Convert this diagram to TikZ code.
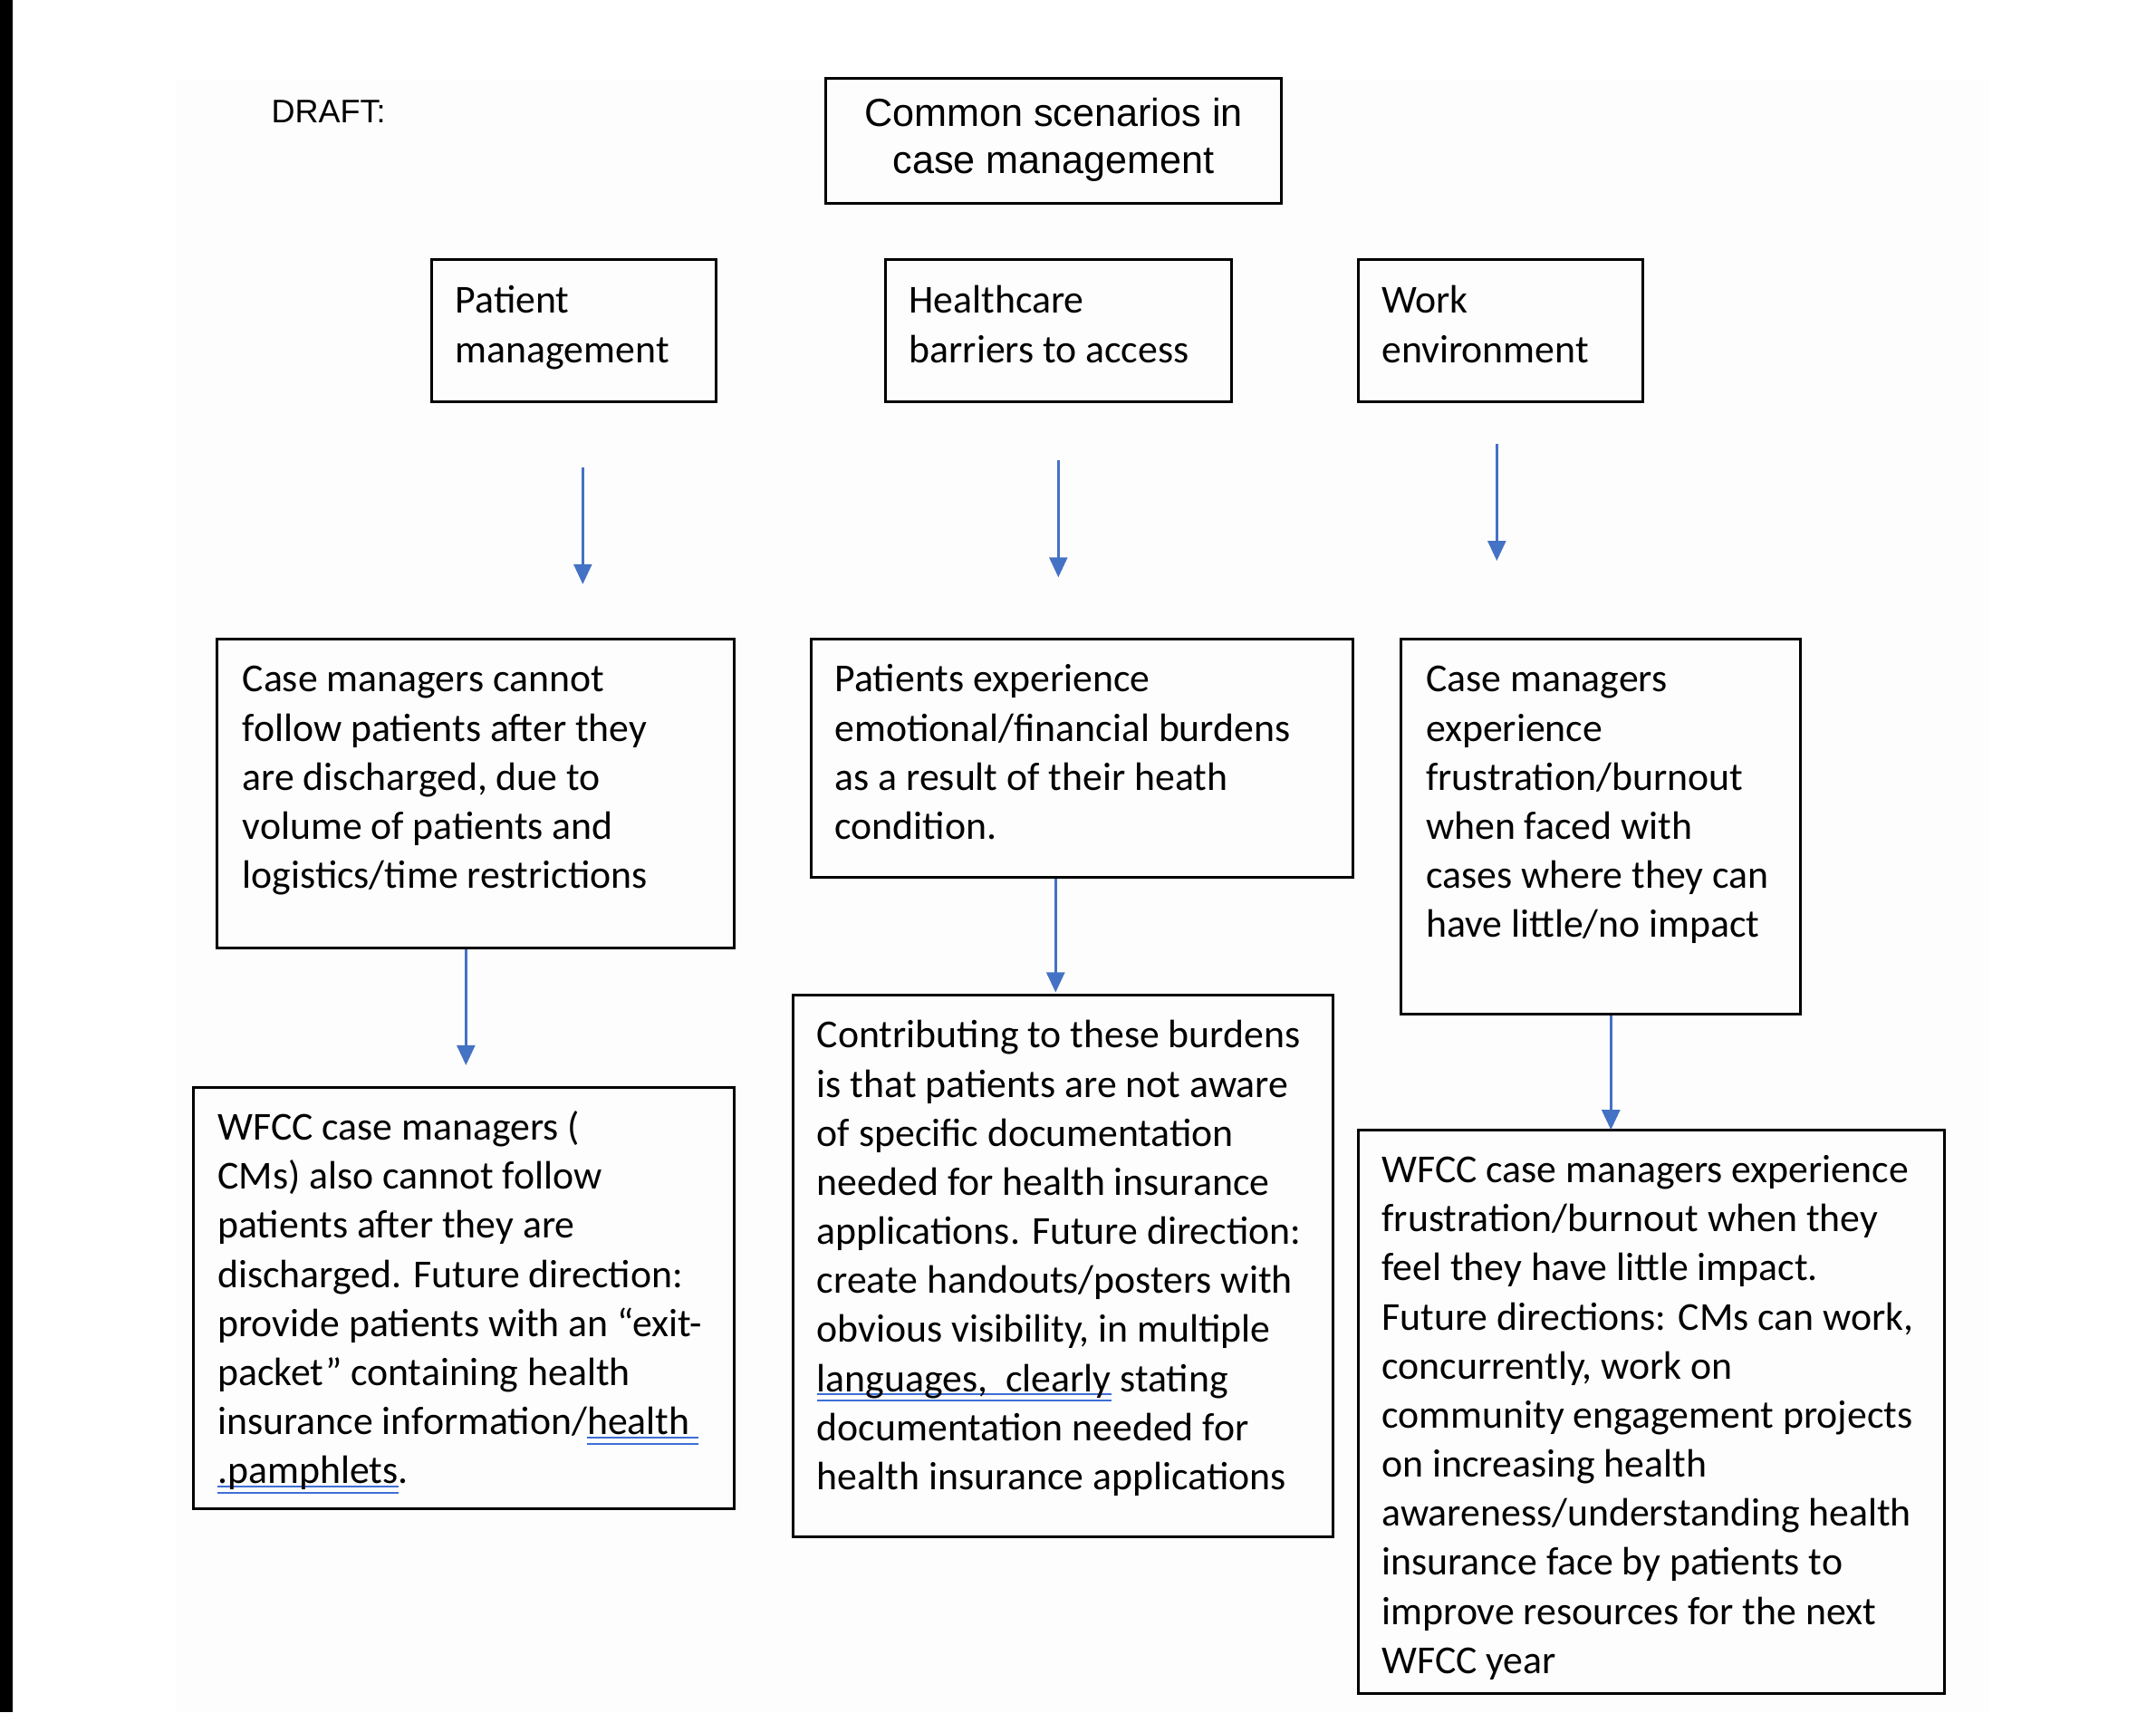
\documentclass[tikz,border=0pt]{standalone}
\usepackage{fontspec}
\setmainfont{Carlito}
\newfontfamily\arialfont{Liberation Sans}
\usetikzlibrary{arrows.meta,fit}
\definecolor{arrblue}{HTML}{4472C4}
\definecolor{splblue}{HTML}{3D6FD6}
\definecolor{paper}{HTML}{FDFDFD}
\newcommand\spchk[1]{\setbox0=\hbox{#1}\rlap{\color{splblue}\rule[-1.3pt]{\wd0}{0.6pt}\hskip-\wd0\rule[-3.4pt]{\wd0}{0.6pt}}\box0\relax}
\newcommand\bodyfnt{\fontsize{13.12}{16.25}\selectfont}
\newcommand\titlefnt{\arialfont\fontsize{12.95}{15.48}\selectfont}
\tikzset{
  boxnode/.style={draw=black, line width=0.9pt, inner sep=0pt},
  txtnode/.style={anchor=north west, inner sep=0pt, align=left, font=\bodyfnt},
  arr/.style={draw=arrblue, line width=0.75pt, -{Triangle[width=6pt,length=6.6pt]}}
}
\begin{document}
\begin{tikzpicture}[x=0.45515pt, y=-0.45515pt]
\useasboundingbox (0,0) rectangle (1568.6,1245.7);
\fill[paper] (128,58) rectangle (1447,1245.7);
\fill[black] (0,0) rectangle (9,1245.7);

% title
\node[boxnode, fit={(601,57) (932,148)}] (title) {};
\node[anchor=north, inner sep=0pt, align=center, font=\titlefnt] (titlet) at (766.5,68) {\strut Common scenarios in\\case management};
\node[anchor=base west, inner sep=0pt, font=\arialfont\fontsize{10.8}{12}\selectfont] (draft) at (197,89) {DRAFT:};

% row 1
\node[boxnode, fit={(314,189) (521,292)}] (pm) {};
\node[txtnode] (pmt) at (331,202.5) {\strut Patient\\management};
\node[boxnode, fit={(644,189) (896,292)}] (hb) {};
\node[txtnode] (hbt) at (661,202.5) {\strut Healthcare\\barriers to access};
\node[boxnode, fit={(988,189) (1195,292)}] (we) {};
\node[txtnode] (wet) at (1005,202.5) {\strut Work\\environment};

% floating arrows
\coordinate (pa1) at (424,340); \coordinate (pa2) at (424,425);
\coordinate (ha1) at (770,335); \coordinate (ha2) at (770,420);
\coordinate (wa1) at (1089,323); \coordinate (wa2) at (1089,408);
\draw[arr] (pa1) -- (pa2);
\draw[arr] (ha1) -- (ha2);
\draw[arr] (wa1) -- (wa2);

% row 2
\node[boxnode, fit={(158,465) (534,690)}] (a2) {};
\node[txtnode] (a2t) at (176,478) {\strut Case managers cannot\\follow patients after they\\are discharged, due to\\volume of patients and\\logistics/time restrictions};
\node[boxnode, fit={(590,465) (984,638)}] (b2) {};
\node[txtnode] (b2t) at (607,478) {\strut Patients experience\\emotional/financial burdens\\as a result of their heath\\condition.};
\node[boxnode, fit={(1019,465) (1310,738)}] (c2) {};
\node[txtnode] (c2t) at (1037,478) {\strut Case managers\\experience\\frustration/burnout\\when faced with\\cases where they can\\have little/no impact};

% row 3
\node[boxnode, fit={(141,791) (534,1098)}] (a3) {};
\node[txtnode] (a3t) at (158,804) {\strut WFCC case managers (\\CMs) also cannot follow\\patients after they are\\discharged. Future direction:\\provide patients with an “exit-\\packet” containing health\\insurance information/\spchk{health }\\\spchk{.pamphlets}.};
\node[boxnode, fit={(577,724) (970,1118)}] (b3) {};
\node[txtnode] (b3t) at (594,737) {\strut Contributing to these burdens\\is that patients are not aware\\of specific documentation\\needed for health insurance\\applications. Future direction:\\create handouts/posters with\\obvious visibility, in multiple\\\spchk{languages,~~clearly} stating\\documentation needed for\\health insurance applications};
\node[boxnode, fit={(988,822) (1415,1232)}] (c3) {};
\node[txtnode] (c3t) at (1005,835) {\strut WFCC case managers experience\\frustration/burnout when they\\feel they have little impact.\\Future directions: CMs can work,\\concurrently, work on\\community engagement projects\\on increasing health\\awareness/understanding health\\insurance face by patients to\\improve resources for the next\\WFCC year};

% second-row arrows
\coordinate (a3tip) at (339,775);
\coordinate (b3tip) at (768,722);
\coordinate (c3tip) at (1172,822);
\draw[arr] (a2.south -| a3tip) -- (a3tip);
\draw[arr] (b2.south -| b3tip) -- (b3tip);
\draw[arr] (c2.south -| c3tip) -- (c3tip);
\end{tikzpicture}
\end{document}
